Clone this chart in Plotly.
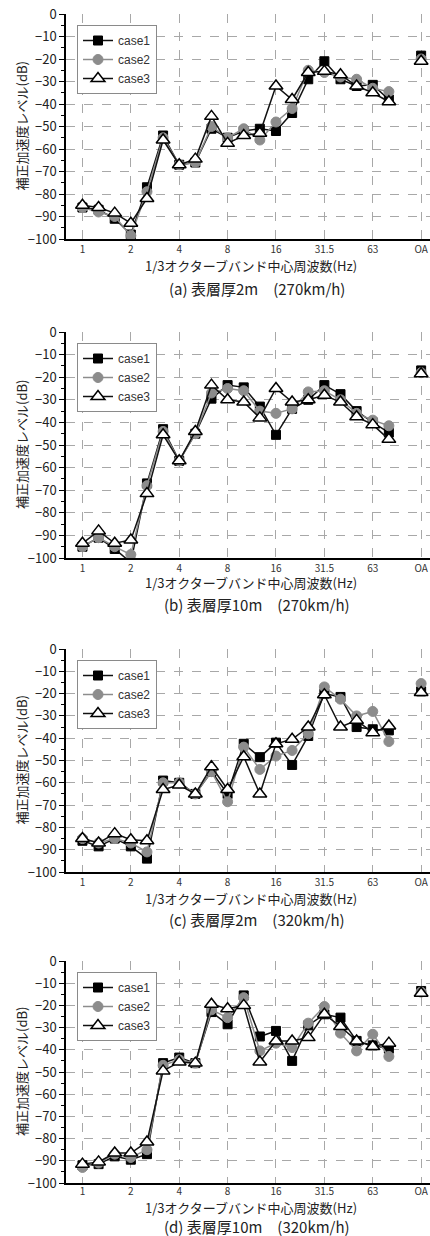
import plotly.graph_objects as go

# ---------------- data ----------------
band_labels = ['1', '1.25', '1.6', '2', '2.5', '3.15', '4', '5', '6.3', '8', '10', '12.5',
               '16', '20', '25', '31.5', '40', '50', '63', '80']
tick_labels = ['1', '2', '4', '8', '16', '31.5', '63', 'OA']
tick_bands = ['1', '2', '4', '8', '16', '31.5', '63', 'OA']
case_names = ['case1', 'case2', 'case3']

# (a) 表層厚2m (270km/h)
a_case1 = [-86, -87, -91, -98, -77, -54, -67, -66, -51, -55, -52, -51, -52, -44, -29, -21, -29, -32, -31.5, -38]
a_case2 = [-86, -88, -90, -98.5, -79, -55, -67, -66, -50, -55, -51, -56, -48, -42, -25, -26, -28, -29, -33, -34.5]
a_case3 = [-85, -86, -88.5, -93, -82, -56, -67, -64.5, -45.5, -57.5, -54, -53, -32, -38, -26, -25.5, -27, -32, -35, -39]
a_oa = [-18.5, -20, -21]

# (b) 表層厚10m (270km/h)
b_case1 = [-95, -91, -96, -102, -67, -43, -57, -45, -29.5, -23.5, -24.5, -33, -45.5, -34, -30, -23.5, -27.5, -35, -40, -44.5]
b_case2 = [-95, -91, -95, -98.5, -68, -44, -57, -45, -27, -25, -26, -35, -36, -34, -26.5, -26, -30, -36, -39, -41.5]
b_case3 = [-93.5, -88, -93.5, -92, -71.5, -45.5, -57, -44, -23.5, -30, -31, -38, -25, -31, -30, -28, -31, -37.5, -41, -47.5]
b_oa = [-17, -18, -18.5]

# (c) 表層厚2m (320km/h)
c_case1 = [-86, -88.5, -85, -88.5, -94, -59, -60, -65, -55, -65, -42.5, -48.5, -42, -52, -39, -20, -21.5, -35, -36, -36.5]
c_case2 = [-85, -87, -85, -87, -91, -60, -60, -65, -55, -68.5, -44, -54, -48, -45.5, -38, -17, -22.5, -30, -28, -41.5]
c_case3 = [-85, -87, -82.8, -85.5, -86, -63, -61, -65, -52.8, -63, -48.3, -65, -42.5, -40.5, -35, -20.5, -35, -32, -37.5, -34.5]
c_oa = [-19, -15.5, -19.5]

# (d) 表層厚10m (320km/h)
d_case1 = [-92, -91.5, -88, -89.5, -87, -46, -43.5, -46, -23, -28.5, -15.5, -34, -31.5, -45, -29, -24, -25.5, -36, -38, -39.5]
d_case2 = [-93, -91, -87, -88.5, -85, -47, -44.5, -46, -22, -25.5, -16.5, -40.5, -37, -39, -28, -20.5, -32.5, -40.5, -33, -43]
d_case3 = [-91.5, -90.5, -86.5, -86.5, -81.5, -49.5, -45.5, -46, -19.5, -21.5, -20, -45.5, -36, -36, -34.5, -24, -29.5, -36, -38.5, -37]
d_oa = [-13.5, -14, -14.5]

subtitles = ['(a) 表層厚2m\u3000(270km/h)', '(b) 表層厚10m\u3000(270km/h)',
             '(c) 表層厚2m\u3000(320km/h)', '(d) 表層厚10m\u3000(320km/h)']
x_title = '1/3オクターブバンド中心周波数(Hz)'
y_title = '補正加速度レベル(dB)'
y_ticks = [0, -10, -20, -30, -40, -50, -60, -70, -80, -90, -100]

panels = [
    (a_case1, a_case2, a_case3, a_oa),
    (b_case1, b_case2, b_case3, b_oa),
    (c_case1, c_case2, c_case3, c_oa),
    (d_case1, d_case2, d_case3, d_oa),
]

# ---------------- layout geometry (pixels) ----------------
W, H = 430, 1236
FONT = 'Noto Sans CJK JP'
plot_px = [(14, 239), (332, 558), (649, 872), (961, 1183)]   # top, bottom of each plot area
xtitle_px = [265, 582, 898, 1207]
sub_px = [289, 604, 919, 1226]
xlabel_standoff = [0, 0, 0, -2]
left_px = 66


def py(px):
    return 1 - px / H


# x positions: band index, OA placed after a one-band gap
band_x = list(range(len(band_labels)))
oa_x = len(band_labels) + 1
all_cats = band_labels + ['', 'OA']
tick_x = [all_cats.index(t) for t in tick_bands]

styles = [
    dict(line=dict(color='#111111', width=1.5),
         marker=dict(symbol='square', size=9, color='#000000', line=dict(color='#000000', width=1))),
    dict(line=dict(color='#8c8c8c', width=1.5),
         marker=dict(symbol='circle', size=10, color='#8c8c8c', line=dict(color='#8c8c8c', width=1))),
    dict(line=dict(color='#111111', width=1.5),
         marker=dict(symbol='triangle-up', size=12, color='#ffffff', line=dict(color='#000000', width=1.5))),
]

fig = go.Figure()
annotations = []
layout_axes = {}

for p, series in enumerate(panels):
    n = p + 1
    xa = 'x' if n == 1 else f'x{n}'
    ya = 'y' if n == 1 else f'y{n}'
    lg = 'legend' if n == 1 else f'legend{n}'
    oa_vals = series[3]
    for k in range(3):
        fig.add_trace(go.Scatter(
            x=band_x, y=series[k], mode='lines+markers', name=case_names[k],
            xaxis=xa, yaxis=ya, legend=lg, **styles[k]))
    for k in range(3):
        fig.add_trace(go.Scatter(
            x=[oa_x], y=[oa_vals[k]], mode='markers', name=case_names[k], showlegend=False,
            xaxis=xa, yaxis=ya, marker=styles[k]['marker']))

    top, bot = plot_px[p]
    xkey = 'xaxis' if n == 1 else f'xaxis{n}'
    ykey = 'yaxis' if n == 1 else f'yaxis{n}'
    layout_axes[xkey] = dict(
        domain=[left_px / W, 1.0], range=[-1.02, 21.55], anchor=ya,
        tickmode='array', tickvals=tick_x, ticktext=tick_labels,
        tickfont=dict(size=10, color='#333333', family=FONT),
        ticklabelstandoff=xlabel_standoff[p],
        showgrid=True, gridcolor='#a8a8a8', griddash='dash', gridwidth=1,
        showline=True, linecolor='#000000', linewidth=1.5,
        ticks='', zeroline=False, fixedrange=True, automargin=False)
    layout_axes[ykey] = dict(
        domain=[py(bot), py(top)], range=[-100, 0], anchor=xa,
        tickmode='array', tickvals=y_ticks,
        tickfont=dict(size=13, color='#222222', family=FONT),
        showgrid=True, gridcolor='#a8a8a8', griddash='dash', gridwidth=1,
        showline=True, linecolor='#000000', linewidth=1.5,
        ticks='outside', ticklen=5, tickcolor='#000000', tickwidth=1,
        minor=dict(dtick=5, tick0=0, ticks='outside', ticklen=3, tickcolor='#000000', showgrid=False),
        zeroline=False, fixedrange=True, automargin=False)
    layout_axes[lg] = dict(
        x=77 / W, y=py(top + 11), xanchor='left', yanchor='top',
        bgcolor='#ffffff', bordercolor='#8a8a8a', borderwidth=1,
        font=dict(size=12, color='#333333', family='Liberation Sans'),
        itemwidth=30, tracegroupgap=0)

    annotations.append(dict(text=x_title, x=251 / W, y=py(xtitle_px[p]),
                            xref='paper', yref='paper', showarrow=False, yanchor='middle',
                            font=dict(size=13, color='#222222', family=FONT)))
    annotations.append(dict(text=subtitles[p], x=257 / W, y=py(sub_px[p]),
                            xref='paper', yref='paper', showarrow=False, yanchor='middle',
                            font=dict(size=15, color='#222222', family=FONT)))
    annotations.append(dict(text=y_title, x=21 / W, y=py((top + bot) / 2),
                            xref='paper', yref='paper', showarrow=False, textangle=-90,
                            xanchor='center', yanchor='middle',
                            font=dict(size=13, color='#222222', family=FONT)))

fig.update_layout(
    width=W, height=H, margin=dict(l=0, r=0, t=0, b=0, autoexpand=False),
    paper_bgcolor='#ffffff', plot_bgcolor='#ffffff',
    font=dict(family=FONT, color='#222222'),
    annotations=annotations, **layout_axes)

fig.write_html('out.html', config={'displayModeBar': False},
               post_script="document.body.style.margin='0';document.body.style.padding='0';")
